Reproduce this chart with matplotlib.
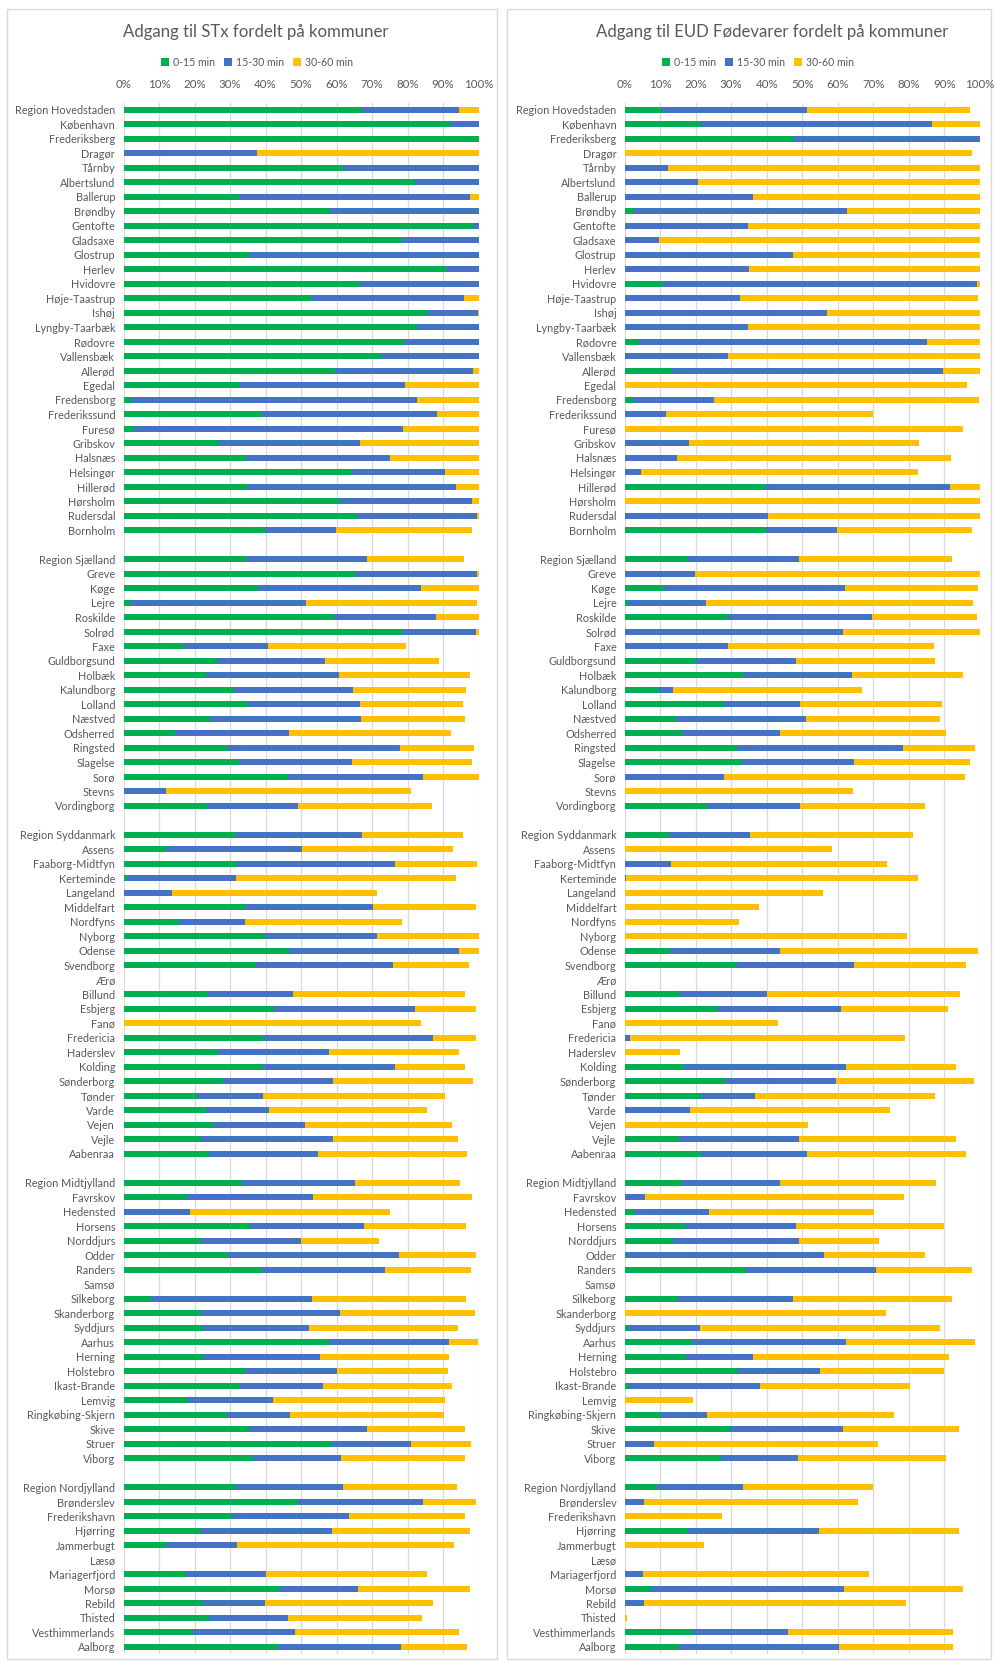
import matplotlib
matplotlib.use("Agg")
import matplotlib.pyplot as plt
from matplotlib.patches import Patch, Rectangle

plt.rcParams["font.family"] = ["Lato", "DejaVu Sans"]

# ─── Data (percent of population, by travel time) ───
hovedstaden = ["Region Hovedstaden", "København", "Frederiksberg", "Dragør", "Tårnby",
               "Albertslund", "Ballerup", "Brøndby", "Gentofte", "Gladsaxe", "Glostrup",
               "Herlev", "Hvidovre", "Høje-Taastrup", "Ishøj", "Lyngby-Taarbæk", "Rødovre",
               "Vallensbæk", "Allerød", "Egedal", "Fredensborg", "Frederikssund", "Furesø",
               "Gribskov", "Halsnæs", "Helsingør", "Hillerød", "Hørsholm", "Rudersdal",
               "Bornholm"]
sjaelland = ["Region Sjælland", "Greve", "Køge", "Lejre", "Roskilde", "Solrød", "Faxe",
             "Guldborgsund", "Holbæk", "Kalundborg", "Lolland", "Næstved", "Odsherred",
             "Ringsted", "Slagelse", "Sorø", "Stevns", "Vordingborg"]
syddanmark = ["Region Syddanmark", "Assens", "Faaborg-Midtfyn", "Kerteminde", "Langeland",
              "Middelfart", "Nordfyns", "Nyborg", "Odense", "Svendborg", "Ærø", "Billund",
              "Esbjerg", "Fanø", "Fredericia", "Haderslev", "Kolding", "Sønderborg", "Tønder",
              "Varde", "Vejen", "Vejle", "Aabenraa"]
midtjylland = ["Region Midtjylland", "Favrskov", "Hedensted", "Horsens", "Norddjurs", "Odder",
               "Randers", "Samsø", "Silkeborg", "Skanderborg", "Syddjurs", "Aarhus", "Herning",
               "Holstebro", "Ikast-Brande", "Lemvig", "Ringkøbing-Skjern", "Skive", "Struer",
               "Viborg"]
nordjylland = ["Region Nordjylland", "Brønderslev", "Frederikshavn", "Hjørring", "Jammerbugt",
               "Læsø", "Mariagerfjord", "Morsø", "Rebild", "Thisted", "Vesthimmerlands", "Aalborg"]
regions = [hovedstaden, sjaelland, syddanmark, midtjylland, nordjylland]

# STx
stx_0_15 = [67.3, 92.0, 100, 0, 61.9, 82.2, 32.5, 58.1, 98.4, 78.5, 35.3, 90.9, 66.5, 53.2, 85.5,
            82.6, 79.0, 72.4, 59.5, 32.7, 2.2, 38.9, 3.0, 26.8, 34.6, 64.3, 34.8, 60.8, 65.8, 39.9,
            34.4, 65.2, 37.9, 2.2, 59.4, 78.4, 17.1, 26.4, 23.2, 31.0, 35.1, 24.5, 14.5, 29.4, 32.5,
            46.4, 0, 23.4,
            31.6, 12.0, 31.9, 1.1, 0, 34.1, 15.6, 39.8, 46.5, 37.4, 0, 23.9, 42.3, 0, 39.7, 26.7,
            39.2, 28.1, 20.7, 23.3, 25.2, 21.9, 24.2,
            33.4, 17.5, 0, 35.6, 21.9, 29.4, 38.9, 0, 7.8, 21.8, 22.5, 57.8, 22.4, 34.1, 32.9, 18.2,
            29.2, 35.4, 58.8, 36.4,
            31.8, 49.2, 30.7, 21.7, 11.9, 0, 17.6, 44.0, 22.4, 24.0, 19.5, 43.5]
stx_15_30 = [27.2, 8.0, 0, 37.6, 38.1, 17.8, 65.0, 41.9, 1.6, 21.5, 64.7, 9.1, 33.5, 42.8, 14.3,
             17.4, 21.0, 27.6, 39.0, 46.7, 80.4, 49.5, 75.8, 39.9, 40.4, 26.2, 59.0, 37.4, 33.9, 19.9,
             34.2, 34.3, 45.8, 49.1, 28.7, 20.8, 23.7, 30.5, 37.4, 33.7, 31.4, 42.3, 32.0, 48.4, 31.8,
             38.0, 11.9, 25.8,
             35.6, 38.4, 44.5, 30.5, 13.8, 36.3, 18.7, 31.7, 47.9, 38.6, 0, 23.8, 39.7, 0, 47.6, 31.2,
             37.2, 30.8, 18.5, 17.8, 26.0, 37.0, 30.5,
             31.9, 35.9, 18.7, 32.1, 28.0, 48.3, 34.8, 0, 45.4, 39.1, 29.8, 33.9, 33.0, 26.1, 23.4,
             23.9, 17.7, 33.3, 22.1, 25.0,
             30.0, 35.3, 32.9, 37.1, 20.0, 0, 22.5, 22.1, 17.5, 22.3, 28.8, 34.8]
stx_30_60 = [5.5, 0, 0, 62.4, 0, 0, 2.5, 0, 0, 0, 0, 0, 0, 4.0, 0.2, 0, 0, 0, 1.5, 20.6, 17.4, 11.6,
             21.2, 33.3, 25.0, 9.5, 6.2, 1.8, 0.3, 38.3,
             27.3, 0.5, 16.3, 48.2, 11.9, 0.8, 38.9, 32.0, 37.1, 31.8, 29.2, 29.5, 45.7, 20.8, 34.0,
             15.6, 69.2, 37.8,
             28.5, 42.5, 23.3, 62.1, 57.5, 28.8, 44.2, 28.5, 5.6, 21.4, 0, 48.4, 17.2, 83.9, 11.9,
             36.5, 19.9, 39.5, 51.4, 44.3, 41.2, 35.2, 42.0,
             29.4, 44.7, 56.4, 28.8, 22.1, 21.5, 24.2, 0, 43.3, 38.2, 41.8, 8.3, 36.3, 31.1, 36.1,
             48.5, 43.3, 27.5, 16.9, 34.8,
             32.1, 14.7, 32.5, 38.8, 61.3, 0, 45.3, 31.5, 47.2, 37.9, 46.3, 18.4]

# EUD Fødevarer
eud_0_15 = [10.5, 21.4, 47.6, 0, 0, 0, 0, 2.5, 0, 0, 0, 0, 10.8, 0, 0, 0, 4.0, 0, 13.3, 0, 2.3, 0,
            0, 0, 0, 0, 39.4, 0, 0, 39.7,
            17.7, 0, 11.1, 0.8, 29.1, 0, 0, 20.0, 33.5, 9.8, 28.1, 14.4, 16.2, 31.6, 32.7, 0, 0, 23.3,
            12.5, 0, 0, 0, 0, 0, 0, 0, 12.7, 31.7, 0, 15.2, 26.1, 0, 0, 0, 16.7, 28.3, 21.4, 0, 0,
            15.3, 21.4,
            16.0, 0, 2.7, 16.9, 13.7, 0.3, 34.1, 0, 14.9, 0, 1.2, 19.0, 17.3, 31.9, 1.2, 0, 10.1,
            29.8, 0, 27.1,
            9.2, 0, 0, 17.9, 0, 0, 0, 7.4, 0, 0, 19.3, 15.2]
eud_15_30 = [40.9, 65.3, 52.4, 0, 12.1, 20.6, 36.1, 60.0, 34.6, 9.7, 47.3, 35.0, 88.4, 32.6, 57.0,
             34.7, 81.2, 29.0, 76.4, 0, 22.9, 11.6, 0, 18.0, 14.8, 4.5, 52.1, 0, 40.4, 20.1,
             31.5, 19.9, 50.9, 22.1, 40.6, 61.4, 29.1, 28.2, 30.6, 3.7, 21.3, 36.6, 27.6, 46.7, 32.0,
             27.9, 0, 26.1,
             22.7, 0, 13.1, 0.4, 0, 0, 0, 0, 31.1, 32.9, 0, 24.8, 34.8, 0, 1.5, 0, 45.6, 31.2, 15.3,
             18.5, 0, 33.7, 30.0,
             27.7, 5.6, 21.1, 31.3, 35.5, 55.9, 36.6, 0, 32.4, 0, 20.0, 43.2, 18.9, 23.2, 36.9, 0,
             13.1, 31.8, 8.3, 21.7,
             24.1, 5.4, 0, 36.9, 0, 0, 5.1, 54.5, 5.4, 0, 26.8, 45.2]
eud_30_60 = [46.0, 13.3, 0, 97.8, 87.9, 79.4, 63.9, 37.5, 65.4, 90.3, 52.7, 65.0, 0.8, 67.0, 43.0,
             65.3, 14.8, 71.0, 10.3, 96.4, 74.6, 58.3, 95.3, 65.0, 77.0, 78.1, 8.5, 100, 59.6, 38.1,
             43.0, 80.1, 37.4, 75.2, 29.4, 38.6, 58.0, 39.3, 31.2, 53.3, 40.0, 37.7, 46.7, 20.4, 32.7,
             68.0, 64.3, 35.3,
             46.0, 58.3, 60.8, 82.2, 55.9, 37.7, 32.3, 79.4, 55.7, 31.6, 0, 54.5, 30.1, 43.3, 77.5,
             15.7, 31.1, 38.9, 50.8, 56.3, 51.5, 44.4, 44.7,
             43.9, 73.2, 46.3, 41.8, 22.4, 28.5, 27.0, 0, 44.8, 73.6, 67.7, 36.4, 55.1, 34.8, 42.3,
             19.2, 52.7, 32.7, 63.1, 41.7,
             36.6, 60.4, 27.4, 39.5, 22.3, 0, 63.7, 33.3, 73.8, 0.6, 46.5, 32.2]

series_labels = ["0-15 min", "15-30 min", "30-60 min"]
colors = ["#00B050", "#4472C4", "#FFC000"]
TEXT = "#595959"
GRID = "#D9D9D9"

# ─── Row positions: one blank row between regions ───
names, ypos = [], []
row = 0
for grp in regions:
    for n in grp:
        names.append(n)
        ypos.append(row)
        row += 1
    row += 1
n_rows = row - 1

W, H = 994, 1661
fig = plt.figure(figsize=(W / 100, H / 100), dpi=100)

# panel frames
for x0, x1 in [(7, 497), (507, 991)]:
    fig.patches.append(Rectangle((x0 / W, 1 - 1659 / H), (x1 - x0) / W, (1659 - 9) / H,
                                 transform=fig.transFigure, facecolor="none",
                                 edgecolor=GRID, linewidth=1, zorder=-10))

panels = [
    ("Adgang til STx fordelt på kommuner", [stx_0_15, stx_15_30, stx_30_60], 123.5, 256, 257),
    ("Adgang til EUD Fødevarer fordelt på kommuner", [eud_0_15, eud_15_30, eud_30_60], 624.7, 772, 758),
]

top_px, bot_px = 102.5, 1654
for title, data, ax_left, title_x, leg_x in panels:
    ax = fig.add_axes([ax_left / W, 1 - bot_px / H, 355 / W, (bot_px - top_px) / H])
    ax.set_facecolor("none")
    left = [0] * len(names)
    for vals, lab, col in zip(data, series_labels, colors):
        ax.barh(ypos, vals, left=left, height=0.42, color=col, label=lab, zorder=3)
        left = [a + b for a, b in zip(left, vals)]

    ax.set_xlim(0, 100)
    ax.set_ylim(n_rows - 0.5, -0.5)
    ax.set_xticks(range(0, 101, 10))
    ax.set_xticklabels([f"{t}%" for t in range(0, 101, 10)])
    ax.xaxis.tick_top()
    ax.set_yticks(ypos)
    ax.set_yticklabels(names)
    ax.tick_params(axis="x", length=0, pad=9, labelsize=8.3, labelcolor=TEXT)
    ax.tick_params(axis="y", length=0, pad=6, labelsize=7.85, labelcolor=TEXT)
    ax.grid(axis="x", color=GRID, linewidth=0.9, zorder=0)
    for s in ax.spines.values():
        s.set_visible(False)

    fig.text(title_x / W, 1 - 32 / H, title, ha="center", va="center",
             fontsize=12.1, color=TEXT)
    handles = [Patch(facecolor=c, label=l) for c, l in zip(colors, series_labels)]
    fig.legend(handles=handles, loc="center", bbox_to_anchor=(leg_x / W, 1 - 62 / H),
               ncol=3, frameon=False, fontsize=7.6, labelcolor=TEXT,
               handlelength=0.75, handleheight=0.75, handletextpad=0.35, columnspacing=0.9)

fig.savefig("out.png", dpi=100)
